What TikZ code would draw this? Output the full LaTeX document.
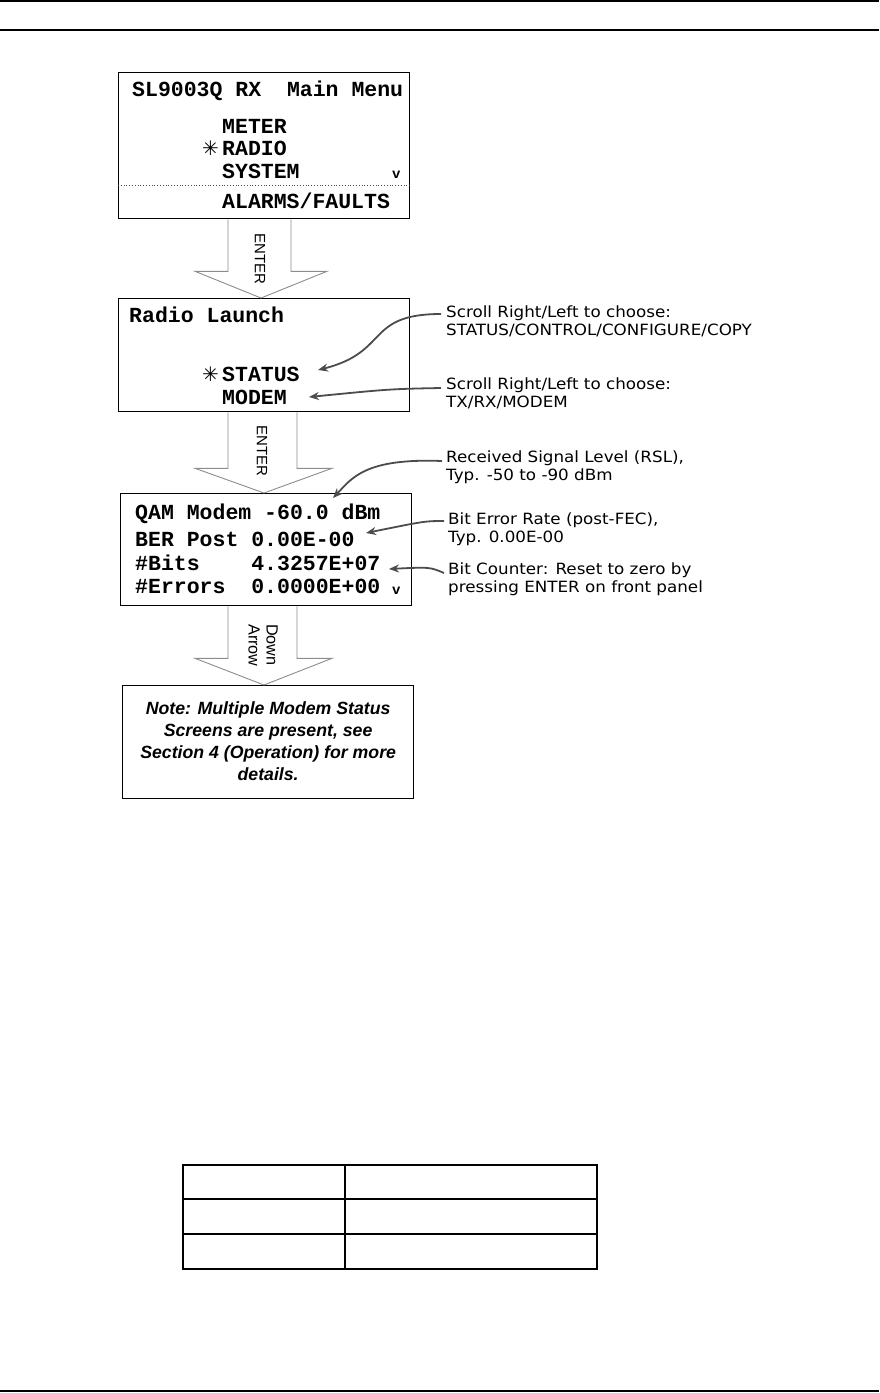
\documentclass[tikz,border=0pt]{standalone}
\usepackage{fontspec}
\setmainfont{Liberation Sans}
\newfontfamily\lcdfont{Liberation Mono}
\newfontfamily\notefont[FakeStretch=1.08]{DejaVu Sans}
\newfontfamily\symfont{DejaVu Sans}
\usetikzlibrary{calc,arrows.meta}
\begin{document}
\begin{tikzpicture}[x=1pt,y=-1pt,
  screen/.style={draw=black,line width=1.3pt,anchor=north west,inner sep=0pt},
  lcd/.style={anchor=base west,inner sep=0pt,font=\lcdfont\bfseries\fontsize{21.5}{23}\selectfont},
  lcdsmall/.style={anchor=base west,inner sep=0pt,font=\lcdfont\bfseries\fontsize{14}{14}\selectfont},
  star/.style={anchor=base east,inner sep=0pt,font=\symfont\fontsize{20}{20}\selectfont},
  blockarrow/.style={draw=black!45,line width=0.9pt,fill=white},
  keylabel/.style={rotate=-90,inner sep=0pt,font=\fontsize{15}{16.5}\selectfont},
  remark/.style={anchor=north west,inner sep=0pt,align=left,font=\notefont\fontsize{15.5}{18.5}\selectfont},
  callout/.style={draw=black!70,line width=1.8pt,-{Stealth[length=10pt,width=8pt]}},
  rule/.style={line width=2pt,draw=black},
  grid/.style={line width=1.5pt,draw=black}]
\useasboundingbox (0,0) rectangle (879,1393);
% page rules
\draw[rule] (0,1) -- (879,1);
\draw[rule] (0,30) -- (879,30);
\draw[rule] (0,1391) -- (879,1391);

% screen 1
\node[screen,minimum width=291pt,minimum height=146pt] (s1) at (118,72) {};
\node[lcd] (s1t) at (132,96) {SL9003Q RX\ \ Main Menu};
\node[lcd] (s1a) at (222,133) {METER};
\node[lcd] (s1b) at (222,155) {RADIO};
\node[star] (s1s) at (219,155) {✳};
\node[lcd] (s1c) at (222,178) {SYSTEM};
\node[lcdsmall] (s1v) at (392,178) {v};
\draw[dotted,line width=0.8pt,black!70] ($(s1.west)+(0,40)$) -- ($(s1.east)+(0,40)$);
\node[lcd] (s1d) at (222,208) {ALARMS/FAULTS};

% screen 2
\node[screen,minimum width=291pt,minimum height=113pt] (s2) at (118,298) {};
\node[lcd] (s2t) at (129,322) {Radio Launch};
\node[lcd] (s2a) at (222,381) {STATUS};
\node[star] (s2s) at (219,381) {✳};
\node[lcd] (s2b) at (222,404) {MODEM};

% screen 3
\node[screen,minimum width=291pt,minimum height=112pt] (s3) at (120,493) {};
\node[lcd] (s3a) at (135,519) {QAM Modem -60.0 dBm};
\node[lcd] (s3b) at (135,546) {BER Post 0.00E-00};
\node[lcd] (s3c) at (135,570) {\#Bits\ \ \ \ 4.3257E+07};
\node[lcd] (s3d) at (135,593) {\#Errors\ \ 0.0000E+00};
\node[lcdsmall] (s3v) at (392,594) {v};

% note box
\node[screen,minimum width=291pt,minimum height=113pt] (s4) at (122,685) {};
\node[inner sep=0pt,align=center,font=\bfseries\itshape\fontsize{17.7}{21.7}\selectfont] (s4t) at ($(s4.center)+(0,-1)$)
  {Note: Multiple Modem Status\\Screens are present, see\\Section 4 (Operation) for more\\details.};

% block arrows
\draw[blockarrow] ($(s1.south west)+(110,0)$) -- ++(0,52) -- ++(-33,0) -- ($(s2.north west)+(143,0)$)
  -- ($(s1.south west)+(209,52)$) -- ++(-36,0) -- ($(s1.south west)+(173,0)$);
\node[keylabel] (k1) at (260,259) {ENTER};
\draw[blockarrow] ($(s2.south west)+(110,0)$) -- ++(0,56) -- ++(-33,0) -- ($(s3.north west)+(144,0)$)
  -- ($(s2.south west)+(214,56)$) -- ++(-35,0) -- ($(s2.south west)+(179,0)$);
\node[keylabel] (k2) at (262,451) {ENTER};
\draw[blockarrow] ($(s3.south west)+(108,0)$) -- ++(0,52) -- ++(-33,0) -- ($(s4.north west)+(142,0)$)
  -- ($(s3.south west)+(212,52)$) -- ++(-35,0) -- ($(s3.south west)+(177,0)$);
\node[keylabel,anchor=west,align=left,font=\fontsize{16.2}{18}\selectfont] (k3) at (263,624) {Down\\Arrow};

% remarks
\node[remark] (r1) at (446,305.5) {Scroll Right/Left to choose:\\STATUS/CONTROL/CONFIGURE/COPY};
\node[remark] (r2) at (446,377.5) {Scroll Right/Left to choose:\\TX/RX/MODEM};
\node[remark] (r3) at (446,450.5) {Received Signal Level (RSL),\\Typ. -50 to -90 dBm};
\node[remark] (r4) at (448,512.5) {Bit Error Rate (post-FEC),\\Typ. 0.00E-00};
\node[remark] (r5) at (448,562.5) {Bit Counter: Reset to zero by\\pressing ENTER on front panel};

\coordinate (c1) at (441,314);
\coordinate (c2) at (441,388);
\coordinate (c3) at (442,461);
\coordinate (c4) at (444,521);
\coordinate (c5) at (444,573);
\draw[callout] (c1) .. controls (365,314) and (390,352) .. (318,370);
\draw[callout] (c2) .. controls (390,389) .. (309,397);
\draw[callout] (c3) .. controls (365,458) and (352,478) .. (333,498);
\draw[callout] (c4) .. controls (425,521) .. (366,533);
\draw[callout] (c5) .. controls (430,567) .. (389,569);

% table
\draw[grid] (183,1165) rectangle (597,1269);
\draw[grid] (183,1199) -- (597,1199);
\draw[grid] (183,1234) -- (597,1234);
\draw[grid] (345,1165) -- (345,1269);
\end{tikzpicture}
\end{document}
